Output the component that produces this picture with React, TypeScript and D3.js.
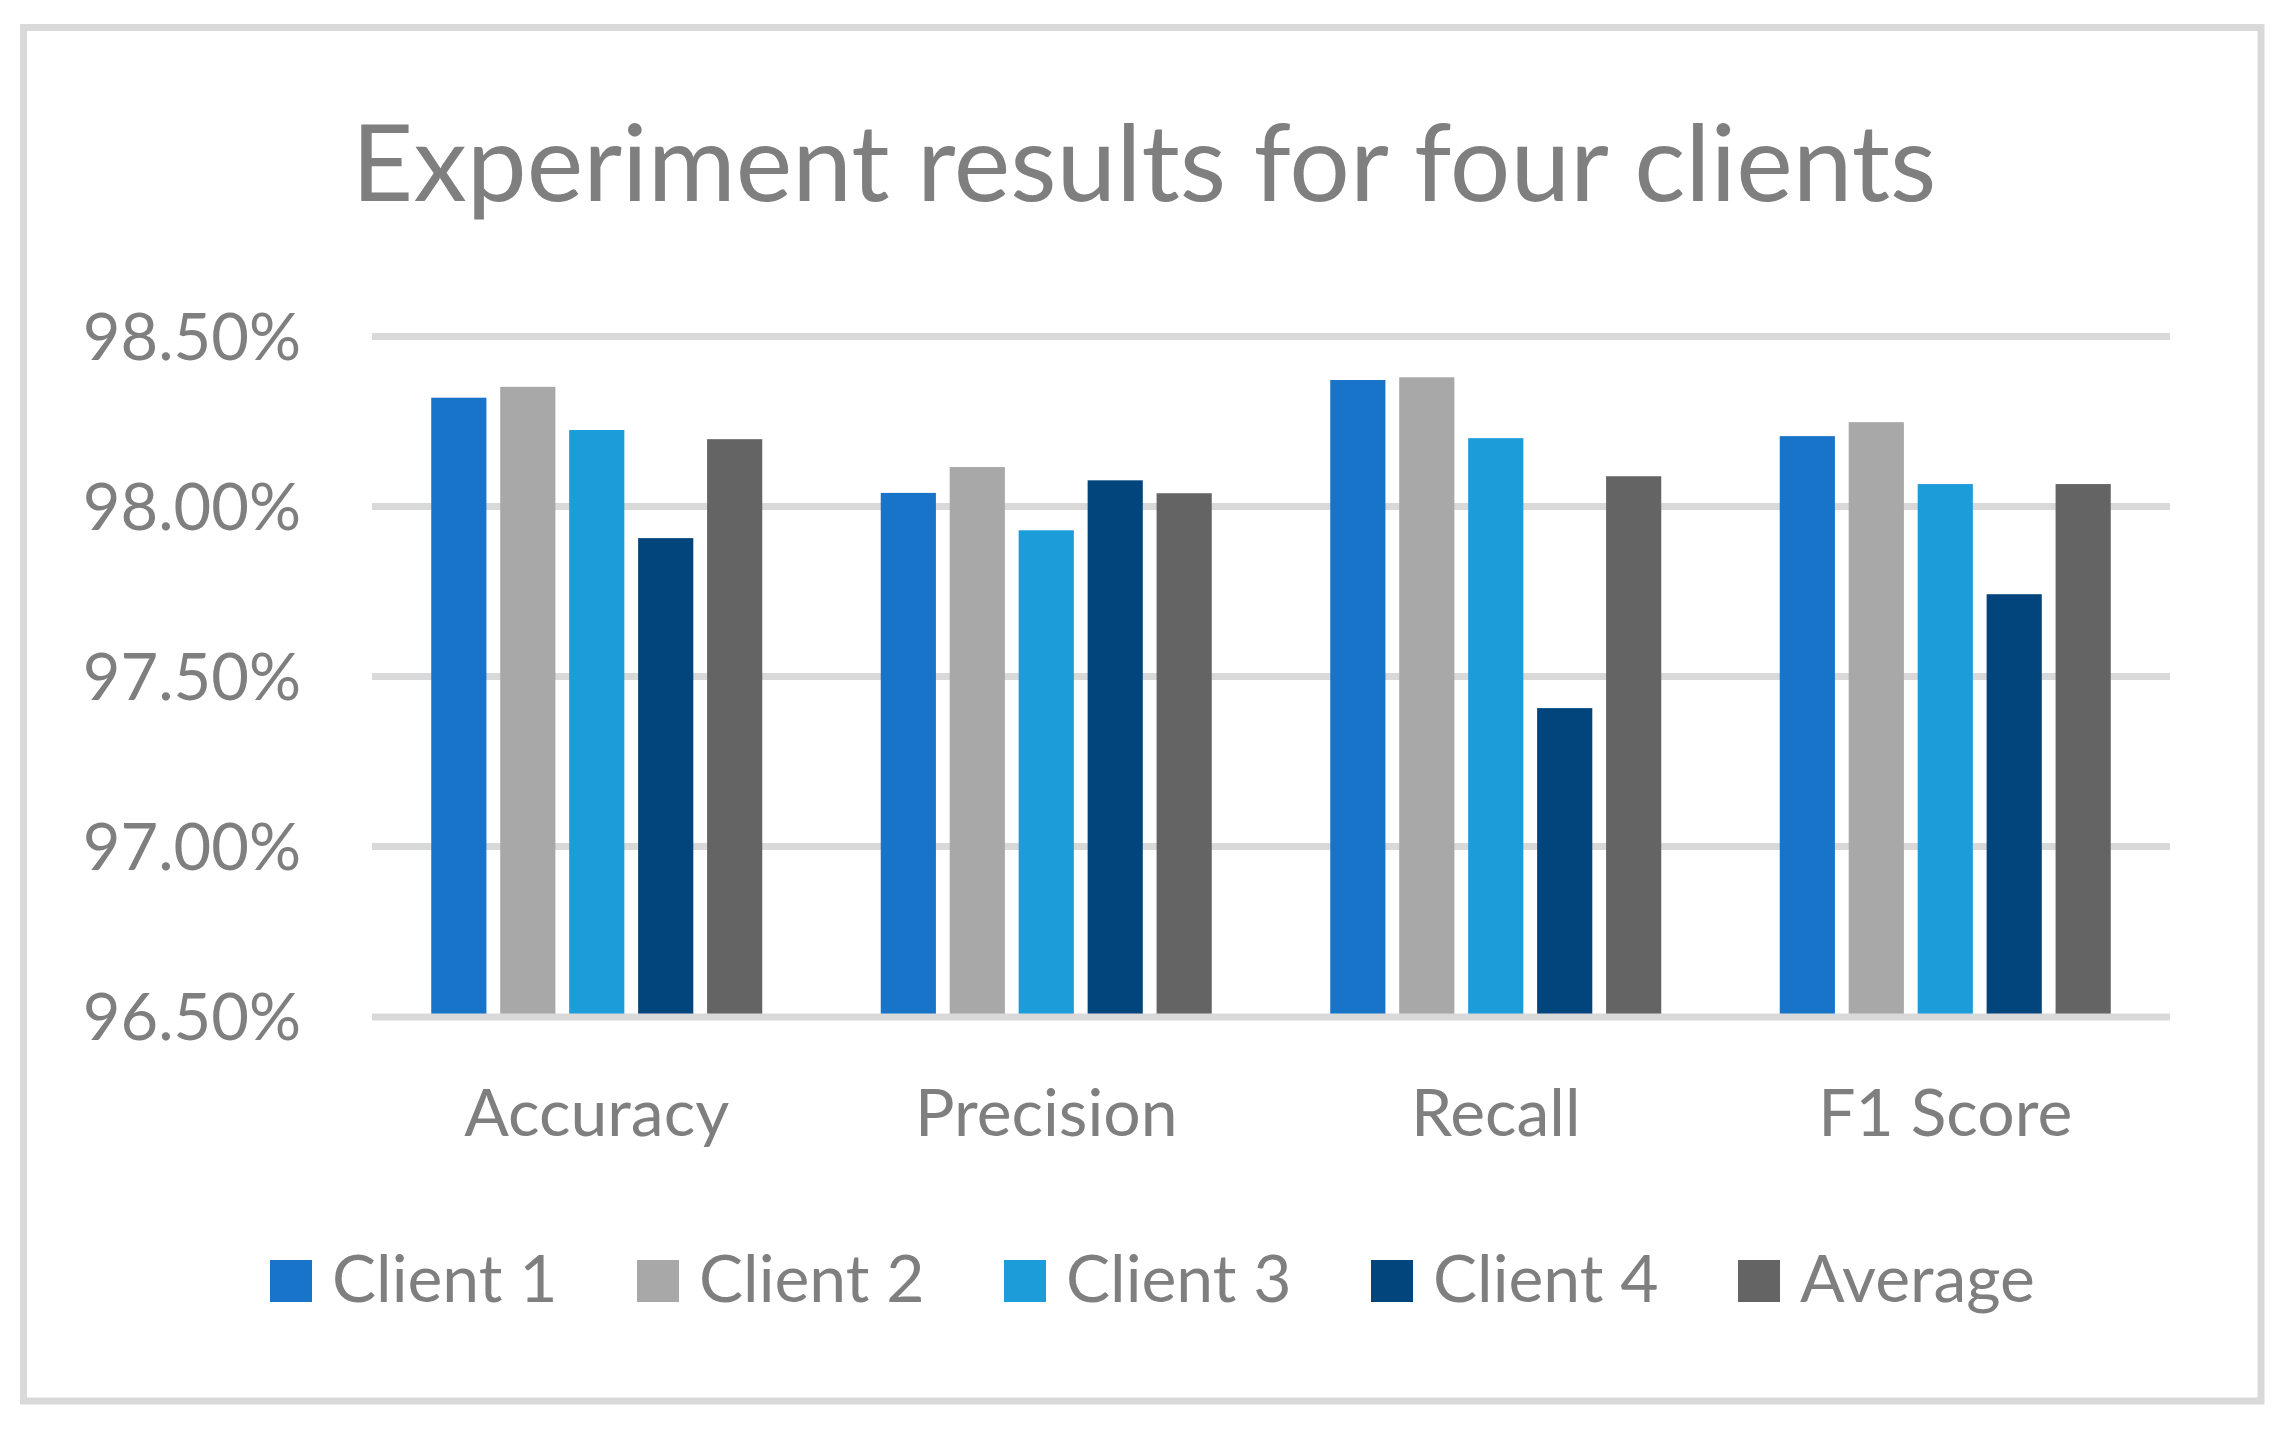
import { useEffect, useRef } from 'react';
import * as d3 from 'd3';

// Data
const categories = ['Accuracy', 'Precision', 'Recall', 'F1 Score'];
const seriesNames = ['Client 1', 'Client 2', 'Client 3', 'Client 4', 'Average'];
const client1 = [98.32, 98.04, 98.372, 98.207];
const client2 = [98.352, 98.116, 98.38, 98.248];
const client3 = [98.225, 97.93, 98.201, 98.066];
const client4 = [97.907, 98.077, 97.407, 97.742];
const average = [98.198, 98.039, 98.089, 98.066];
const yTicks = [96.5, 97.0, 97.5, 98.0, 98.5];

const seriesValues = [client1, client2, client3, client4, average];
const seriesColors = ['#1874c9', '#a8a8a8', '#1c9cd8', '#02447c', '#646464'];

const W = 2286;
const H = 1433;
const FONT = 'Lato, "Open Sans", sans-serif';
const TEXT = '#7f7f7f';
const GRID = '#d9d9d9';

export default function App() {
    let ref = useRef<SVGSVGElement>(null);

    useEffect(() => {
        const svg = d3.select(ref.current);
        svg.selectAll('*').remove();

        const plot = { left: 372, right: 2170, top: 336.5, bottom: 1016.5 };

        // chart border
        svg.append('rect')
            .attr('x', 23.5).attr('y', 27.5)
            .attr('width', 2237.5).attr('height', 1373.5)
            .attr('fill', '#ffffff')
            .attr('stroke', GRID).attr('stroke-width', 7);

        // title
        svg.append('text')
            .attr('x', 1144).attr('y', 201)
            .attr('text-anchor', 'middle')
            .attr('font-family', FONT).attr('font-size', 107)
            .attr('fill', TEXT)
            .text('Experiment results for four clients');

        const x0 = d3.scaleBand<string>()
            .domain(categories)
            .range([plot.left, plot.right])
            .paddingInner(0.2636)
            .paddingOuter(0.1318);

        const x1 = d3.scaleBand<string>()
            .domain(seriesNames)
            .range([0, x0.bandwidth()])
            .paddingInner(0.2)
            .paddingOuter(0);

        const y = d3.scaleLinear().domain([96.5, 98.5]).range([plot.bottom, plot.top]);

        // gridlines (except the base)
        svg.append('g')
            .selectAll('line')
            .data(yTicks.filter(t => t !== 96.5))
            .join('line')
            .attr('x1', plot.left).attr('x2', plot.right)
            .attr('y1', d => y(d)).attr('y2', d => y(d))
            .attr('stroke', GRID).attr('stroke-width', 7);

        // y tick labels
        svg.append('g')
            .selectAll('text')
            .data(yTicks)
            .join('text')
            .attr('x', 301)
            .attr('y', d => y(d) + 23)
            .attr('text-anchor', 'end')
            .attr('font-family', FONT).attr('font-size', 65)
            .attr('fill', TEXT)
            .text(d => d.toFixed(2) + '%');

        // bars
        const groups = svg.append('g')
            .selectAll('g')
            .data(categories)
            .join('g')
            .attr('transform', c => `translate(${x0(c)},0)`);

        groups.selectAll('rect')
            .data((c, ci) => seriesNames.map((s, si) => ({ s, si, v: seriesValues[si][ci] })))
            .join('rect')
            .attr('x', d => x1(d.s)!)
            .attr('width', x1.bandwidth())
            .attr('y', d => y(d.v))
            .attr('height', d => y(96.5) - y(d.v))
            .attr('fill', d => seriesColors[d.si]);

        // base axis line
        svg.append('line')
            .attr('x1', plot.left).attr('x2', plot.right)
            .attr('y1', y(96.5) + 0.5).attr('y2', y(96.5) + 0.5)
            .attr('stroke', GRID).attr('stroke-width', 7);

        // category labels
        svg.append('g')
            .selectAll('text')
            .data(categories)
            .join('text')
            .attr('x', c => x0(c)! + x0.bandwidth() / 2)
            .attr('y', 1136)
            .attr('text-anchor', 'middle')
            .attr('font-family', FONT).attr('font-size', 66)
            .attr('fill', TEXT)
            .text(c => c);

        // legend
        const legend = svg.append('g')
            .selectAll('g')
            .data(seriesNames)
            .join('g')
            .attr('transform', (d, i) => `translate(${270 + i * 367},0)`);

        legend.append('rect')
            .attr('x', 0).attr('y', 1260)
            .attr('width', 42).attr('height', 42)
            .attr('fill', (d, i) => seriesColors[i]);

        legend.append('text')
            .attr('x', 62).attr('y', 1302)
            .attr('font-family', FONT).attr('font-size', 66)
            .attr('fill', TEXT)
            .text(d => d);
    }, []);

    return (
        <div style={{ position: 'absolute', left: 0, top: 0 }}>
            <svg ref={ref} width={W} height={H} style={{ display: 'block', background: '#ffffff' }}></svg>
        </div>
    );
}
